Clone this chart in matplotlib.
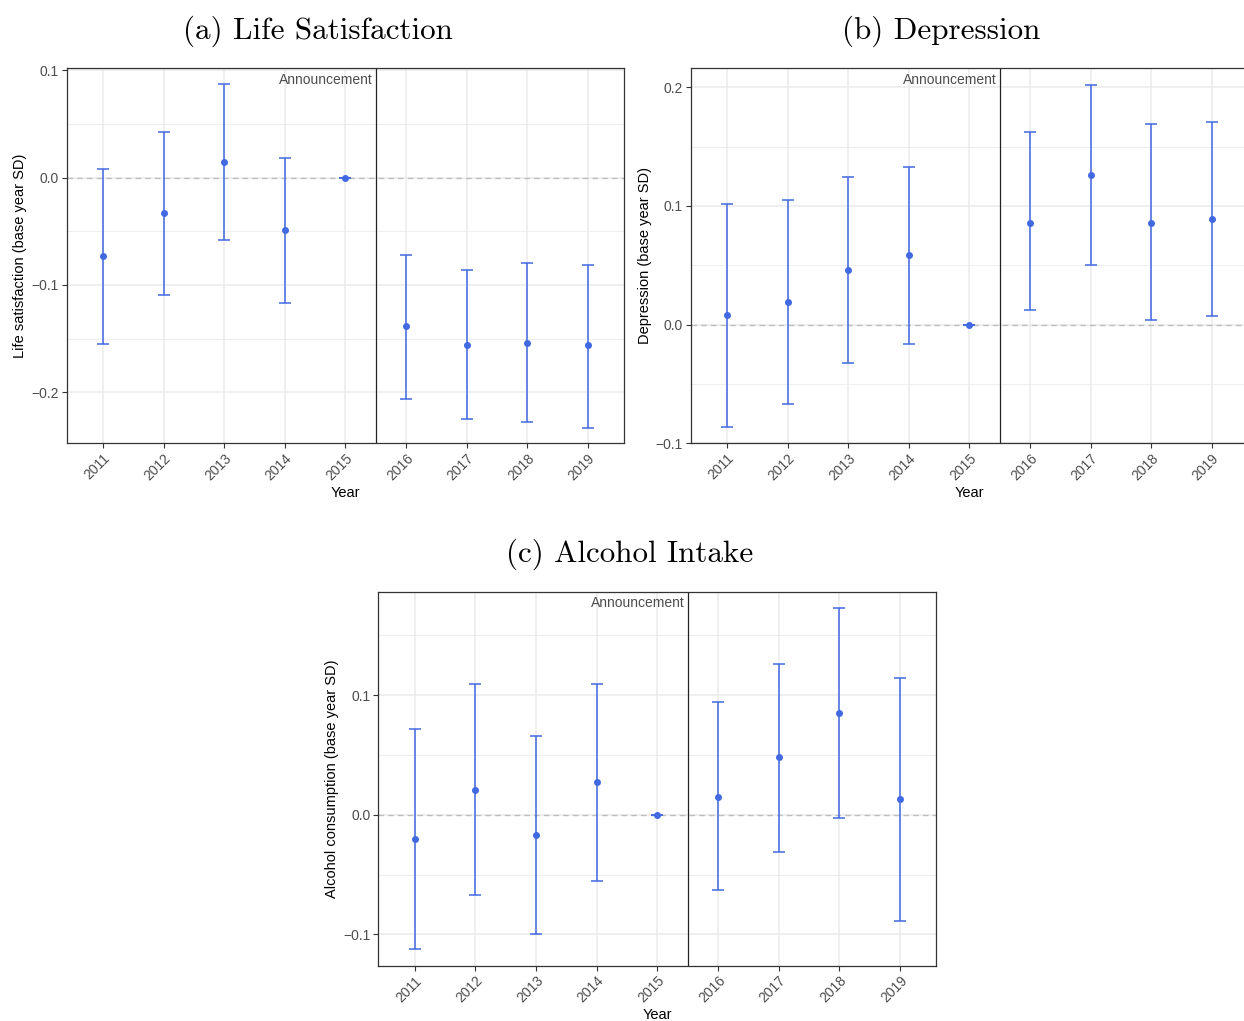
import matplotlib
matplotlib.use('Agg')
import matplotlib.pyplot as plt
import numpy as np

years = [2011, 2012, 2013, 2014, 2015, 2016, 2017, 2018, 2019]

# (a) life satisfaction
life_est = [-0.073, -0.033, 0.015, -0.049, 0.0, -0.138, -0.156, -0.154, -0.156]
life_lo = [-0.155, -0.109, -0.058, -0.117, 0.0, -0.206, -0.225, -0.228, -0.233]
life_hi = [0.008, 0.043, 0.087, 0.018, 0.0, -0.072, -0.086, -0.080, -0.081]

# (b) depression
dep_est = [0.008, 0.019, 0.046, 0.059, 0.0, 0.086, 0.126, 0.086, 0.089]
dep_lo = [-0.086, -0.067, -0.032, -0.016, 0.0, 0.012, 0.050, 0.004, 0.007]
dep_hi = [0.102, 0.105, 0.124, 0.133, 0.0, 0.162, 0.202, 0.169, 0.171]

# (c) alcohol
alc_est = [-0.020, 0.021, -0.017, 0.027, 0.0, 0.015, 0.048, 0.085, 0.013]
alc_lo = [-0.112, -0.067, -0.100, -0.055, 0.0, -0.063, -0.031, -0.003, -0.089]
alc_hi = [0.072, 0.109, 0.066, 0.109, 0.0, 0.094, 0.126, 0.173, 0.114]

blue = '#4169E1'
W, H = 1244, 1021

fig = plt.figure(figsize=(W / 100, H / 100), dpi=100)
plt.rcParams['font.family'] = ['Liberation Sans', 'DejaVu Sans']


def panel(px, title, tpos, est, lo, hi, ylabel, ylim, yticks, minor):
    left, top, right, bottom = px
    ax = fig.add_axes([left / W, 1 - bottom / H, (right - left) / W, (bottom - top) / H])
    ax.set_xlim(2010.4, 2019.6)
    ax.set_ylim(*ylim)
    for y in minor:
        ax.axhline(y, color='#EBEBEB', lw=0.6, zorder=0)
    for y in yticks:
        ax.axhline(y, color='#EBEBEB', lw=1.1, zorder=0)
    for x in years:
        ax.axvline(x, color='#EBEBEB', lw=1.1, zorder=0)
    ax.axhline(0, color='#BEBEBE', lw=1.0, ls=(0, (4, 3)), zorder=1)
    ax.axvline(2015.5, color='#222222', lw=0.9, zorder=2)
    est = np.array(est)
    err = [est - np.array(lo), np.array(hi) - est]
    ax.errorbar(years, est, yerr=err, fmt='o', color=blue, ms=4, lw=1.1,
                capsize=4.3, capthick=1.1, zorder=3)
    ax.set_xticks(years)
    ax.set_xticklabels([str(y) for y in years], rotation=45, ha='right', va='top',
                       rotation_mode='anchor')
    ax.set_yticks(yticks)
    ax.set_yticklabels(['\u2212' + f'{abs(v):.1f}' if v < 0 else f'{v:.1f}' for v in yticks])
    ax.tick_params(length=3.5, width=0.8, color='#333333', labelcolor='#4D4D4D',
                   labelsize=10, pad=2)
    for s in ax.spines.values():
        s.set_color('#333333')
        s.set_linewidth(0.9)
    ax.set_xlabel('Year', fontsize=10.5, labelpad=2)
    ax.set_ylabel(ylabel, fontsize=10.5, labelpad=3)
    ax.text(2015.45, ylim[1] - (ylim[1] - ylim[0]) * 0.012, 'Announcement',
            ha='right', va='top', fontsize=10, color='#4D4D4D')
    fig.text(tpos[0] / W, 1 - tpos[1] / H, title, ha='center', va='center',
             fontsize=22.4, family='cmr10')
    return ax


panel((66.7, 68.3, 624, 443.3), '(a) Life Satisfaction', (317.5, 31), life_est, life_lo, life_hi,
      'Life satisfaction (base year SD)', (-0.2477, 0.102), [-0.2, -0.1, 0.0, 0.1],
      [-0.25, -0.15, -0.05, 0.05])
panel((690.7, 68.3, 1248, 443.3), '(b) Depression', (941.5, 31), dep_est, dep_lo, dep_hi,
      'Depression (base year SD)', (-0.1, 0.216), [-0.1, 0.0, 0.1, 0.2],
      [-0.05, 0.05, 0.15])
panel((378.3, 591.7, 936.3, 966), '(c) Alcohol Intake', (630, 554), alc_est, alc_lo, alc_hi,
      'Alcohol consumption (base year SD)', (-0.1264, 0.1863), [-0.1, 0.0, 0.1],
      [-0.05, 0.05, 0.15])

fig.savefig('out.png', dpi=100)
